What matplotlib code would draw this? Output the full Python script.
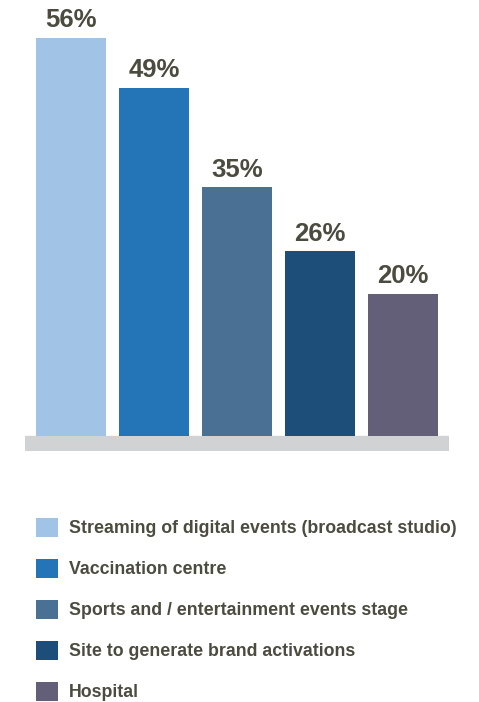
import numpy as np
import matplotlib
matplotlib.use('Agg')
import matplotlib.pyplot as plt
from matplotlib.patches import Patch

plt.rcParams['font.family'] = ['Liberation Sans', 'DejaVu Sans']

categories = [
    'Streaming of digital events (broadcast studio)',
    'Vaccination centre',
    'Sports and / entertainment events stage',
    'Site to generate brand activations',
    'Hospital',
]
values = [56, 49, 35, 26, 20]
colors = ['#a0c3e6', '#2475b8', '#4a7094', '#1d4e79', '#645f78']
text_color = '#4b4b3f'
base_color = '#d1d2d4'

W, H = 479, 702
fig = plt.figure(figsize=(W / 100, H / 100), dpi=100)

# axes spans the grey base strip horizontally; y runs from strip bottom to the top edge
px_per_pct = 7.107
strip_px = 15
ax = fig.add_axes([25 / W, (H - 451) / H, 424 / W, 451 / H])

x = np.arange(len(values))
ax.bar(x, values, width=70 / 83, color=colors, zorder=2)
ax.axhspan(-strip_px / px_per_pct, 0, color=base_color, zorder=1)
ax.set_ylim(-strip_px / px_per_pct, 436 / px_per_pct)
ax.set_xlim(-46 / 83, 378 / 83)
ax.axis('off')

for xi, v in zip(x, values):
    ax.annotate(f'{v}%', (xi, v), xytext=(0, 4), textcoords='offset points',
                ha='center', va='bottom', fontsize=18.5, fontweight='bold',
                color=text_color)

handles = [Patch(facecolor=c, edgecolor='none') for c in colors]
fig.legend(handles, categories, loc='upper left',
           bbox_to_anchor=(36 / W, 1 - 518 / H), borderaxespad=0, borderpad=0,
           frameon=False, handlelength=1.24, handleheight=1.24,
           handletextpad=0.62, labelspacing=1.22, labelcolor=text_color,
           prop={'weight': 'bold', 'size': 12.8})

fig.savefig('out.png', dpi=100, facecolor='white')
